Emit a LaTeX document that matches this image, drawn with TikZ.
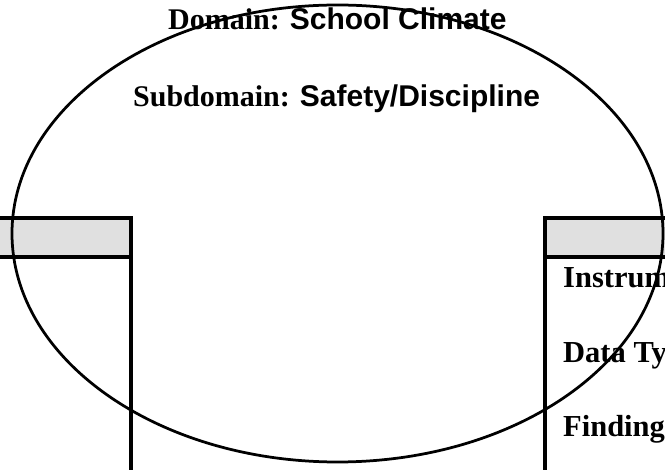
\documentclass[tikz,border=0pt]{standalone}
\usepackage{fontspec}
\setmainfont{Liberation Serif}
\newfontfamily\arialfont{Liberation Sans}
\definecolor{hdrgray}{HTML}{E0E0E0}
\tikzset{
  boxline/.style={line width=4pt},
  hdrfill/.style={fill=hdrgray},
  oval/.style={line width=2.75pt},
  title/.style={font=\fontsize{30}{36}\selectfont\bfseries, inner sep=0pt},
  rowtext/.style={font=\fontsize{30.5}{36}\selectfont\bfseries, inner sep=0pt, anchor=base west},
}
\begin{document}
\begin{tikzpicture}[x=1pt,y=-1pt]
\useasboundingbox (0,0) rectangle (665,470);
\clip (0,0) rectangle (665,470);
% left box
\path[hdrfill] (-10,218) rectangle (131,257);
\draw[boxline] (-10,218) -- (131,218) -- (131,480);
\draw[boxline] (-10,257) -- (131,257);
% right box
\path[hdrfill] (545,218) rectangle (680,257);
\draw[boxline] (680,218) -- (545,218) -- (545,480);
\draw[boxline] (545,257) -- (680,257);
% texts
\node[title, anchor=base west] (dom) at (168,30) {Domain: {\arialfont School Climate}};
\node[title, anchor=base west] (sub) at (133,107) {Subdomain: {\arialfont Safety/Discipline}};
\node[rowtext] (r1) at (563,288) {Instruments};
\node[rowtext] (r2) at (563,363) {Data Types};
\node[rowtext] (r3) at (563,437) {Findings};
% oval
\draw[oval] (337.5,233.5) ellipse [x radius=325.5, y radius=228.5];
\end{tikzpicture}
\end{document}
